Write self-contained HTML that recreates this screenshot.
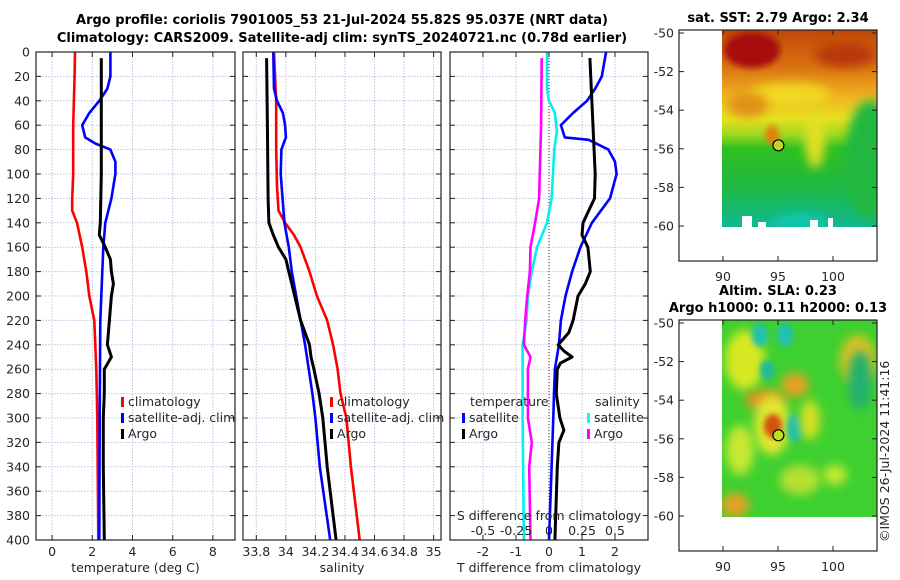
<!DOCTYPE html>
<html><head><meta charset="utf-8"><style>
body{margin:0;background:#fff;}
svg{display:block;font-family:"DejaVu Sans","Liberation Sans",sans-serif;}
.t{font-size:12.5px;fill:#262626}
.b{font-size:13px;font-weight:bold;fill:#000}
</style></head><body>
<svg id="c" width="900" height="580" viewBox="0 0 900 580">
<defs>
<filter id="bl" x="-50%" y="-50%" width="200%" height="200%"><feGaussianBlur stdDeviation="5"/></filter>
<filter id="bl2" x="-50%" y="-50%" width="200%" height="200%"><feGaussianBlur stdDeviation="3"/></filter>
<linearGradient id="sstg" x1="0" y1="0" x2="0" y2="1">
<stop offset="0" stop-color="#c04808"/><stop offset="0.18" stop-color="#d87010"/><stop offset="0.33" stop-color="#f0b020"/>
<stop offset="0.45" stop-color="#e8e020"/><stop offset="0.53" stop-color="#a0d820"/><stop offset="0.6" stop-color="#30c020"/>
<stop offset="0.78" stop-color="#20b840"/><stop offset="1" stop-color="#10b890"/>
</linearGradient>
<clipPath id="m1"><rect x="722" y="30" width="155" height="197"/></clipPath>
<clipPath id="m2"><rect x="722" y="320" width="155" height="197"/></clipPath>
</defs>
<text class="b" x="342" y="24" text-anchor="middle">Argo profile: coriolis 7901005_53 21-Jul-2024 55.82S 95.037E (NRT data)</text>
<text class="b" x="342" y="42" text-anchor="middle">Climatology: CARS2009. Satellite-adj clim: synTS_20240721.nc (0.78d earlier)</text>
<g id="plots"></g>
<g id="map1" clip-path="url(#m1)">
<rect x="722" y="30" width="155" height="197" fill="url(#sstg)"/>
<ellipse cx="752" cy="50" rx="28" ry="18" fill="#a8100a" filter="url(#bl2)"/>
<ellipse cx="845" cy="55" rx="30" ry="12" fill="#b83808" filter="url(#bl)"/>
<ellipse cx="790" cy="95" rx="40" ry="12" fill="#f0d820" filter="url(#bl)"/>
<ellipse cx="748" cy="105" rx="20" ry="12" fill="#e09018" filter="url(#bl)"/>
<ellipse cx="870" cy="160" rx="25" ry="60" fill="#20b840" filter="url(#bl)"/>
<ellipse cx="815" cy="140" rx="10" ry="28" fill="#e0e020" filter="url(#bl)"/>
<ellipse cx="772" cy="135" rx="7" ry="10" fill="#e08010" filter="url(#bl2)"/>
<ellipse cx="800" cy="222" rx="30" ry="8" fill="#10c8b0" filter="url(#bl)"/>
<rect x="742" y="216" width="10" height="11" fill="#fff"/><rect x="758" y="222" width="8" height="5" fill="#fff"/><rect x="810" y="220" width="8" height="7" fill="#fff"/><rect x="828" y="218" width="5" height="9" fill="#fff"/>
</g>
<g id="map2" clip-path="url(#m2)">
<rect x="722" y="320" width="155" height="197" fill="#3ed030"/>
<ellipse cx="745" cy="360" rx="20" ry="30" fill="#d8e820" filter="url(#bl)"/>
<ellipse cx="765" cy="400" rx="20" ry="10" fill="#e89020" filter="url(#bl)"/>
<ellipse cx="795" cy="385" rx="14" ry="12" fill="#e8a020" filter="url(#bl)"/>
<ellipse cx="772" cy="425" rx="18" ry="30" fill="#e0e830" filter="url(#bl)"/>
<ellipse cx="773" cy="426" rx="9" ry="12" fill="#d05010" filter="url(#bl2)"/>
<ellipse cx="760" cy="335" rx="8" ry="12" fill="#20c0b0" filter="url(#bl2)"/>
<ellipse cx="785" cy="335" rx="8" ry="12" fill="#20c0b0" filter="url(#bl2)"/>
<ellipse cx="767" cy="370" rx="7" ry="10" fill="#20b8a0" filter="url(#bl2)"/>
<ellipse cx="795" cy="428" rx="8" ry="14" fill="#20c0b0" filter="url(#bl2)"/>
<ellipse cx="858" cy="360" rx="18" ry="25" fill="#e0c020" filter="url(#bl)"/>
<ellipse cx="860" cy="380" rx="12" ry="30" fill="#20b070" filter="url(#bl)"/>
<ellipse cx="735" cy="505" rx="14" ry="12" fill="#e8a020" filter="url(#bl)"/>
<ellipse cx="810" cy="420" rx="10" ry="20" fill="#d8e020" filter="url(#bl)"/>
<ellipse cx="740" cy="450" rx="14" ry="25" fill="#c8e830" filter="url(#bl)"/>
<ellipse cx="800" cy="480" rx="20" ry="15" fill="#b8e030" filter="url(#bl)"/>
<ellipse cx="835" cy="475" rx="12" ry="10" fill="#c8e830" filter="url(#bl)"/>
</g>
<g id="maps"></g>
<text class="t" transform="translate(889,542) rotate(-90)">©IMOS 26-Jul-2024 11:41:16</text>
</svg>
<script>
const NS='http://www.w3.org/2000/svg';
const svg=document.getElementById('c');
function el(tag,attrs,parent,text){const e=document.createElementNS(NS,tag);for(const k in attrs)e.setAttribute(k,attrs[k]);if(text!==undefined)e.textContent=text;(parent||svg).appendChild(e);return e;}
const depthTicks=[0,20,40,60,80,100,120,140,160,180,200,220,240,260,280,300,320,340,360,380,400];
// Panel 1: temperature
const tClimDepth=[0,20,60,100,120,130,140,160,180,200,220,240,260,300,400];
const tClim=[1.14,1.12,1.05,1.05,1.0,1.0,1.24,1.5,1.7,1.85,2.1,2.15,2.2,2.25,2.3];
const tSatDepth=[0,20,30,40,50,60,70,75,80,90,100,120,140,160,180,220,300,400];
const tSat=[2.9,2.9,2.75,2.35,1.85,1.5,1.65,2.15,2.9,3.15,3.15,2.95,2.65,2.55,2.5,2.4,2.37,2.35];
const tArgoDepth=[5,100,140,150,160,170,180,190,200,220,240,250,260,280,300,340,400];
const tArgo=[2.45,2.45,2.4,2.35,2.65,2.9,2.95,3.05,2.95,2.85,2.75,2.95,2.6,2.6,2.55,2.55,2.6];
// Panel 2: salinity
const sClimDepth=[0,40,80,110,130,140,150,160,180,200,220,240,260,280,300,340,400];
const sClim=[33.92,33.935,33.935,33.94,33.95,33.995,34.055,34.1,34.16,34.21,34.28,34.32,34.35,34.37,34.41,34.44,34.5];
const sSatDepth=[0,30,40,50,60,70,75,80,100,140,160,180,200,220,240,280,300,340,400];
const sSat=[33.915,33.92,33.94,33.98,33.995,34.0,33.985,33.97,33.965,33.99,34.02,34.04,34.07,34.1,34.13,34.18,34.2,34.23,34.3];
const sArgoDepth=[5,60,120,140,150,160,170,180,190,200,220,240,250,260,280,300,340,400];
const sArgo=[33.87,33.875,33.88,33.885,33.915,33.95,34.0,34.02,34.04,34.06,34.1,34.16,34.17,34.19,34.225,34.25,34.28,34.34];
// Panel 3: differences
const dTSatDepth=[0,20,30,40,50,60,70,72,80,90,100,120,140,160,180,200,220,240,260,280,300,340,400];
const dTSat=[1.73,1.6,1.4,1.15,0.73,0.36,0.48,1.2,1.8,2.0,2.05,1.85,1.3,0.95,0.7,0.5,0.36,0.3,0.18,0.15,0.13,0.08,0.0];
const dTArgoDepth=[5,100,120,140,150,160,180,190,200,220,230,240,245,250,255,260,280,300,310,320,340,400];
const dTArgo=[1.24,1.4,1.38,1.03,1.0,1.18,1.25,1.1,0.88,0.73,0.6,0.28,0.45,0.7,0.35,0.25,0.22,0.33,0.45,0.3,0.25,0.18];
const dSSatDepth=[0,30,40,50,65,80,120,140,160,180,200,220,240,260,300,400];
const dSSat=[-0.015,-0.015,0.0,0.045,0.06,0.04,0.02,-0.015,-0.09,-0.13,-0.16,-0.17,-0.2,-0.2,-0.2,-0.19];
const dSArgoDepth=[5,60,120,140,160,180,200,220,240,250,260,300,320,340,400];
const dSArgo=[-0.055,-0.06,-0.075,-0.105,-0.14,-0.145,-0.165,-0.18,-0.19,-0.14,-0.16,-0.16,-0.13,-0.15,-0.14];

const Y0=52,Y1=540;
const yS=d=>Y0+(Y1-Y0)*d/400;
function panel(name,x0,x1,xmin,xmax,xt,xlabels,xlabel){
  const g=el('g',{},document.getElementById('plots'));
  
  
  const xs=v=>x0+(x1-x0)*(v-xmin)/(xmax-xmin);
  xt.forEach(v=>el('line',{x1:xs(v),x2:xs(v),y1:Y0,y2:Y1,stroke:'#b8c4e0','stroke-dasharray':'1.5,1.5','stroke-width':1},g));
  depthTicks.forEach(d=>{el('line',{x1:x0,x2:x1,y1:yS(d),y2:yS(d),stroke:'#b8c4e0','stroke-dasharray':'1.5,1.5','stroke-width':1},g);
    el('line',{x1:x0,x2:x0+5,y1:yS(d),y2:yS(d),stroke:'#222'},g);el('line',{x1:x1-5,x2:x1,y1:yS(d),y2:yS(d),stroke:'#222'},g);});
  xt.forEach((v,i)=>{el('line',{x1:xs(v),x2:xs(v),y1:Y1-5,y2:Y1,stroke:'#222'},g);el('line',{x1:xs(v),x2:xs(v),y1:Y0,y2:Y0+5,stroke:'#222'},g);
    const t=el('text',{x:xs(v),y:556,'text-anchor':'middle',class:'t'},g,xlabels[i]);});
  const xl=el('text',{x:(x0+x1)/2,y:572,'text-anchor':'middle',class:'t'},g,xlabel);
  
  
  return {g,xs};
}
function line(p,xsF,depths,vals,color,name,w){
  const pts=depths.map((d,i)=>xsF(vals[i]).toFixed(1)+','+yS(d).toFixed(1)).join(' ');
  const l=el('polyline',{points:pts,fill:'none',stroke:color,'stroke-width':w||2.6,'stroke-linejoin':'round'},p.g);
  
  
}
function box(p,x0,x1){el('rect',{x:x0,y:Y0,width:x1-x0,height:Y1-Y0,fill:'none',stroke:'#222','stroke-width':1.2},p.g);}
depthTicks.forEach(d=>{const t=el('text',{x:30,y:yS(d)+4.5,'text-anchor':'end',class:'t'},document.getElementById('plots'),String(d));
  
  });
function legend(p,x,y,color,label,name){el('rect',{x:x,y:y-9,width:3,height:10,fill:color},p.g);
  const t=el('text',{x:x+7,y:y,class:'t'},p.g,label);
  
  }

const p1=panel('temperature-panel',36,235,-0.8,9.1,[0,2,4,6,8],['0','2','4','6','8'],'temperature (deg C)');
line(p1,p1.xs,tClimDepth,tClim,'#ff0000','temp-climatology-line');
line(p1,p1.xs,tSatDepth,tSat,'#0000ff','temp-satellite-line');
line(p1,p1.xs,tArgoDepth,tArgo,'#000','temp-argo-line',3);
box(p1,36,235);
legend(p1,121,406,'#f00','climatology','legend-climatology');
legend(p1,121,422,'#00f','satellite-adj. clim','legend-satellite');
legend(p1,121,438,'#000','Argo','legend-argo');

const p2=panel('salinity-panel',243,441,33.71,35.05,[33.8,34,34.2,34.4,34.6,34.8,35],['33.8','34','34.2','34.4','34.6','34.8','35'],'salinity');
line(p2,p2.xs,sClimDepth,sClim,'#ff0000','sal-climatology-line');
line(p2,p2.xs,sSatDepth,sSat,'#0000ff','sal-satellite-line');
line(p2,p2.xs,sArgoDepth,sArgo,'#000','sal-argo-line',3);
box(p2,243,441);
legend(p2,330,406,'#f00','climatology','legend-climatology-2');
legend(p2,330,422,'#00f','satellite-adj. clim','legend-satellite-2');
legend(p2,330,438,'#000','Argo','legend-argo-2');

const p3=panel('difference-panel',450,648,-3,3,[-2,-1,0,1,2],['-2','-1','0','1','2'],'T difference from climatology');
const ssx=v=>p3.xs(v*4);
el('line',{x1:p3.xs(0),x2:p3.xs(0),y1:Y0,y2:Y1,stroke:'#333','stroke-dasharray':'1,2'},p3.g);
line(p3,ssx,dSSatDepth,dSSat,'#00f0f0','sal-diff-satellite-line');
line(p3,ssx,dSArgoDepth,dSArgo,'#ff00ff','sal-diff-argo-line');
line(p3,p3.xs,dTSatDepth,dTSat,'#0000ff','temp-diff-satellite-line');
line(p3,p3.xs,dTArgoDepth,dTArgo,'#000','temp-diff-argo-line',3);
box(p3,450,648);
el('text',{x:470,y:406,class:'t'},p3.g,'temperature');
legend(p3,462,422,'#00f','satellite','legend-t-satellite');
legend(p3,462,438,'#000','Argo','legend-t-argo');
el('text',{x:595,y:406,class:'t'},p3.g,'salinity');
legend(p3,587,422,'#0ff','satellite','legend-s-satellite');
legend(p3,587,438,'#f0f','Argo','legend-s-argo');
el('text',{x:549,y:520,'text-anchor':'middle',class:'t'},p3.g,'S difference from climatology');
[-0.5,-0.25,0,0.25,0.5].forEach(v=>el('text',{x:ssx(v),y:535,'text-anchor':'middle',class:'t'},p3.g,String(v)));

function mapAxes(top,bottom,latTop,name){
  const g=el('g',{},document.getElementById('maps'));
  
  
  el('rect',{x:679,y:top,width:198,height:bottom-top,fill:'none',stroke:'#222','stroke-width':1.2},g);
  const ly=l=>latTop+(l+50)*(-19.3);
  [-50,-52,-54,-56,-58,-60].forEach(l=>{el('line',{x1:679,x2:684,y1:ly(l),y2:ly(l),stroke:'#222'},g);el('line',{x1:872,x2:877,y1:ly(l),y2:ly(l),stroke:'#222'},g);
    el('text',{x:674,y:ly(l)+4.5,'text-anchor':'end',class:'t'},g,String(l));});
  const lx=o=>723+(o-90)*11;
  [90,95,100].forEach(o=>{el('line',{x1:lx(o),x2:lx(o),y1:bottom-5,y2:bottom,stroke:'#222'},g);el('line',{x1:lx(o),x2:lx(o),y1:top,y2:top+5,stroke:'#222'},g);
    el('text',{x:lx(o),y:bottom+20,'text-anchor':'middle',class:'t'},g,String(o));});
  return {lx,ly};
}
const a1=mapAxes(30,261,33,'sst-map-axes');
const c1=el('circle',{cx:a1.lx(95.037),cy:a1.ly(-55.82),r:5.5,fill:'#c0d820',stroke:'#000','stroke-width':1.2});


el('text',{x:778,y:22,'text-anchor':'middle',class:'b'},null,'sat. SST: 2.79 Argo: 2.34');
const a2=mapAxes(320,551,323,'sla-map-axes');
const c2=el('circle',{cx:a2.lx(95.037),cy:a2.ly(-55.82),r:5.5,fill:'#b8e020',stroke:'#000','stroke-width':1.2});


el('text',{x:778,y:295,'text-anchor':'middle',class:'b'},null,'Altim. SLA: 0.23');
el('text',{x:778,y:312,'text-anchor':'middle',class:'b'},null,'Argo h1000: 0.11 h2000: 0.13');
</script>
</body></html>
